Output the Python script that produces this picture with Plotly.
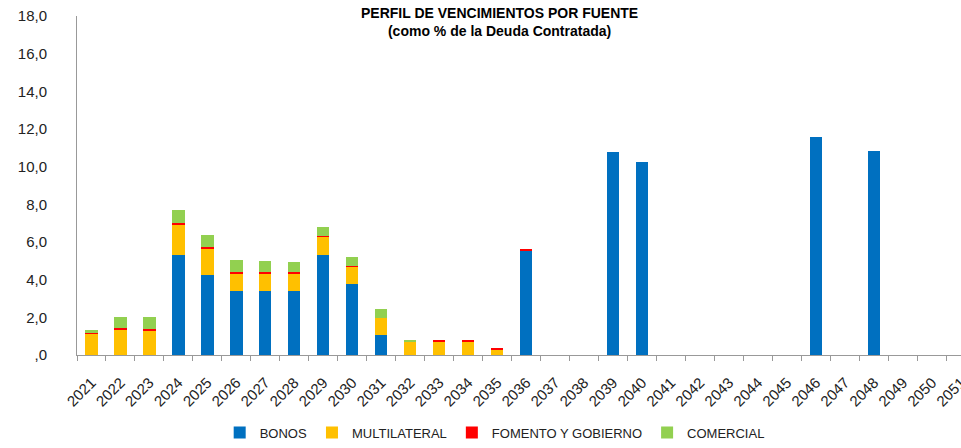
import plotly.graph_objects as go

years = [str(y) for y in range(2021, 2052)]

bonos = [0, 0, 0, 5.31, 4.27, 3.42, 3.42, 3.42, 5.32, 3.76, 1.06, 0, 0, 0, 0, 5.54,
         0, 0, 10.80, 10.24, 0, 0, 0, 0, 0, 11.59, 0, 10.81, 0, 0, 0]
multilateral = [1.12, 1.35, 1.30, 1.63, 1.40, 0.90, 0.90, 0.90, 0.96, 0.94, 0.93, 0.72, 0.70, 0.70, 0.29, 0,
                0, 0, 0, 0, 0, 0, 0, 0, 0, 0, 0, 0, 0, 0, 0]
fomento = [0.06, 0.08, 0.07, 0.08, 0.07, 0.07, 0.07, 0.07, 0.02, 0.03, 0.0, 0.0, 0.05, 0.05, 0.05, 0.05,
           0, 0, 0, 0, 0, 0, 0, 0, 0, 0, 0, 0, 0, 0, 0]
comercial = [0.16, 0.57, 0.64, 0.66, 0.64, 0.64, 0.60, 0.57, 0.48, 0.47, 0.46, 0.09, 0, 0, 0, 0,
             0, 0, 0, 0, 0, 0, 0, 0, 0, 0, 0, 0, 0, 0, 0]

ytick_vals = [0, 2, 4, 6, 8, 10, 12, 14, 16, 18]
ytick_text = [",0", "2,0", "4,0", "6,0", "8,0", "10,0", "12,0", "14,0", "16,0", "18,0"]

series = [
    ("BONOS", bonos, "#0070C0"),
    ("MULTILATERAL", multilateral, "#FFC000"),
    ("FOMENTO Y GOBIERNO", fomento, "#FF0000"),
    ("COMERCIAL", comercial, "#92D050"),
]

fig = go.Figure()
for name, vals, color in series:
    fig.add_trace(go.Bar(x=years, y=vals, name=name, marker_color=color,
                         marker_line_width=0, width=0.42))

fig.update_layout(
    barmode="stack",
    width=961, height=448,
    margin=dict(l=77, r=0, t=16, b=86),
    paper_bgcolor="white", plot_bgcolor="white",
    font=dict(family="Liberation Sans, Arial, sans-serif", color="#222222"),
    showlegend=True,
    legend=dict(orientation="h", x=0.4725, xanchor="center", y=-0.229, yanchor="middle",
                font=dict(size=13, color="#222222"), traceorder="normal"),
    annotations=[dict(
        text="<b>PERFIL DE VENCIMIENTOS POR FUENTE<br>(como % de la Deuda Contratada)</b>",
        xref="paper", yref="paper", x=0.4785, y=0.983, xanchor="center", yanchor="middle",
        showarrow=False, font=dict(size=14, color="#000000"), align="center",
    )],
)
fig.update_xaxes(
    type="category", range=[-0.5, 30.0], automargin=False,
    showline=True, linecolor="#999999", linewidth=1,
    ticks="outside", tickson="boundaries", ticklen=5, tickcolor="#999999",
    tickangle=-45, tickfont=dict(size=15, color="#222222"), ticklabelstandoff=12,
    ticklabeloverflow="allow",
    showgrid=False,
)
fig.update_yaxes(
    range=[0, 18], tickvals=ytick_vals, ticktext=ytick_text, automargin=False,
    showline=True, linecolor="#999999", linewidth=1,
    showgrid=False, zeroline=False, ticks="",
    tickfont=dict(size=15, color="#222222"), ticklabelstandoff=26,
    ticklabeloverflow="allow",
)

fig.write_html("out.html", config={"responsive": False, "displayModeBar": False},
               post_script="document.body.style.margin='0px';document.body.style.overflow='hidden';")
